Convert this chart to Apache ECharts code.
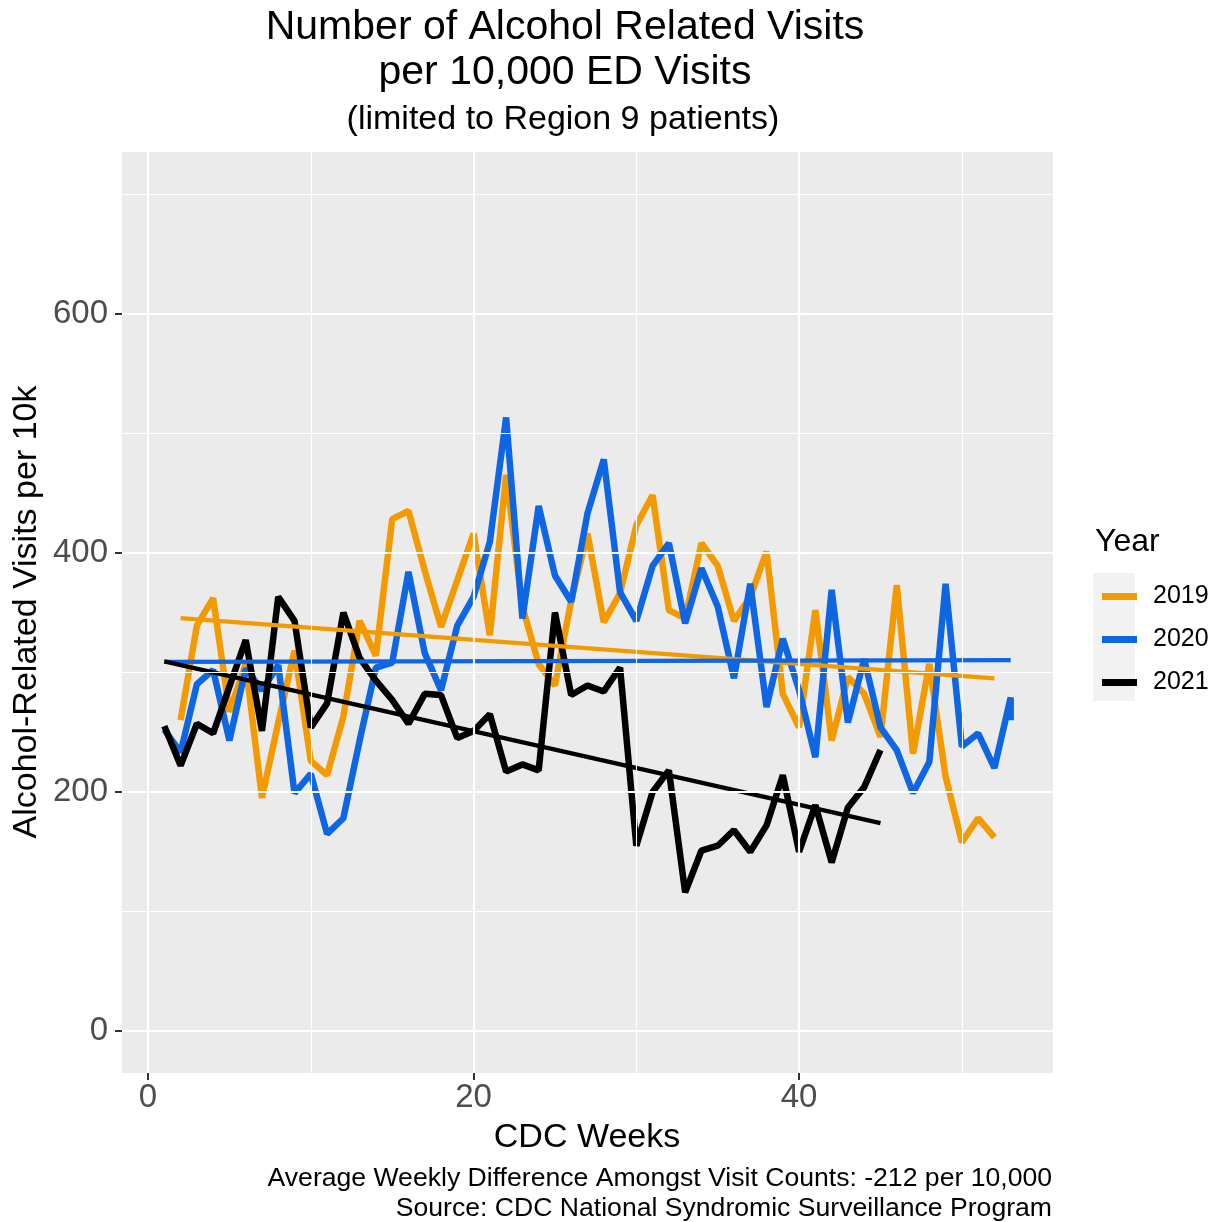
<!DOCTYPE html>
<html><head><meta charset="utf-8">
<script src="https://cdn.jsdelivr.net/npm/echarts@6/dist/echarts.min.js"></script>
<style>html,body{margin:0;padding:0;background:#fff}#c{width:1219px;height:1222px}</style>
</head><body><div id="c"></div>
<script>
// ---- data ----
const years = ['2019', '2020', '2021'];
const weeks2019 = [2,3,4,5,6,7,8,9,10,11,12,13,14,15,16,17,18,19,20,21,22,23,24,25,26,27,28,29,30,31,32,33,34,35,36,37,38,39,40,41,42,43,44,45,46,47,48,49,50,51,52];
const values2019 = [260,339,362,267,307,195,258,318,226,214,263,343,314,428,435,385,338,377,416,331,465,355,307,289,360,416,342,366,423,448,352,345,408,389,343,363,401,282,254,352,243,296,282,246,373,232,307,213,158,178,162];
const weeks2020 = [1,2,3,4,5,6,7,8,9,10,11,12,13,14,15,16,17,18,19,20,21,22,23,24,25,26,27,28,29,30,31,32,33,34,35,36,37,38,39,40,41,42,43,44,45,46,47,48,49,50,51,52,53,53];
const values2020 = [252,233,290,302,243,303,285,306,199,215,165,178,243,304,308,384,316,285,339,363,409,513,345,439,381,359,433,478,367,343,389,408,341,387,355,295,374,271,328,285,229,369,258,311,254,235,199,225,374,238,249,220,279,260];
const weeks2021 = [1,2,3,4,5,6,7,8,9,10,11,12,13,14,15,16,17,18,19,20,21,22,23,24,25,26,27,28,29,30,31,32,33,34,35,36,37,38,39,40,41,42,43,44,45];
const values2021 = [255,222,257,249,288,327,251,363,343,254,274,350,312,293,277,257,282,281,245,251,265,217,223,218,350,281,289,284,304,155,200,218,116,151,155,168,150,172,214,150,189,141,187,204,235];
const xTicks = [0, 20, 40];
const xMinorGrid = [10, 30, 50];
const yTicks = [0, 200, 400, 600];
const yMinorGrid = [100, 300, 500, 700];
const colors = ['#F39A00', '#0F66E2', '#000000'];

const FONT = 'Liberation Sans, Arial, sans-serif';

function pairs(xs, ys) { return xs.map((x, i) => [x, ys[i]]); }
function lmLine(xs, ys) {
  const n = xs.length;
  const mx = xs.reduce((a, b) => a + b, 0) / n;
  const my = ys.reduce((a, b) => a + b, 0) / n;
  let sxy = 0, sxx = 0;
  for (let i = 0; i < n; i++) { sxy += (xs[i] - mx) * (ys[i] - my); sxx += (xs[i] - mx) ** 2; }
  const b = sxy / sxx, a = my - b * mx;
  const x0 = Math.min(...xs), x1 = Math.max(...xs);
  return [[x0, a + b * x0], [x1, a + b * x1]];
}

const seriesData = [pairs(weeks2019, values2019), pairs(weeks2020, values2020), pairs(weeks2021, values2021)];
const trendData = [lmLine(weeks2019, values2019), lmLine(weeks2020, values2020), lmLine(weeks2021, values2021)];

const gridLines = [];
xTicks.forEach(v => gridLines.push({ xAxis: v, lineStyle: { width: 2.2 } }));
yTicks.forEach(v => gridLines.push({ yAxis: v, lineStyle: { width: 2.2 } }));
xMinorGrid.forEach(v => gridLines.push({ xAxis: v, lineStyle: { width: 1.1 } }));
yMinorGrid.forEach(v => gridLines.push({ yAxis: v, lineStyle: { width: 1.1 } }));

const series = [{
  type: 'line', name: 'grid', data: [], z: 1, silent: true,
  markLine: { silent: true, symbol: ['none', 'none'], label: { show: false },
    lineStyle: { color: '#FFFFFF', type: 'solid' }, emphasis: { disabled: true }, data: gridLines }
}];
years.forEach((y, i) => series.push({
  type: 'line', name: y, data: seriesData[i], showSymbol: false, z: 3,
  lineStyle: { width: 6.5, color: colors[i] }, itemStyle: { color: colors[i] }
}));
years.forEach((y, i) => series.push({
  type: 'line', name: y + ' trend', data: trendData[i], showSymbol: false, z: 4,
  lineStyle: { width: 4.3, color: colors[i] }, itemStyle: { color: colors[i] }
}));

const chart = echarts.init(document.getElementById('c'), null, { renderer: 'canvas' });
chart.setOption({
  animation: false,
  backgroundColor: '#FFFFFF',
  textStyle: { fontFamily: FONT },
  grid: { left: 122, right: 166, top: 152, bottom: 149, show: true, backgroundColor: '#EBEBEB', borderWidth: 0, containLabel: false },
  xAxis: {
    type: 'value', min: -1.6, max: 55.6,
    axisLine: { show: true, onZero: false, lineStyle: { color: 'rgba(0,0,0,0)' } },
    axisTick: { show: true, length: 7, customValues: xTicks, lineStyle: { color: '#333333', width: 2 } },
    axisLabel: { customValues: xTicks, margin: 8, fontSize: 33, color: '#4D4D4D', fontFamily: FONT },
    splitLine: { show: false }
  },
  yAxis: {
    type: 'value', min: -35, max: 735,
    axisLine: { show: true, onZero: false, lineStyle: { color: 'rgba(0,0,0,0)' } },
    axisTick: { show: true, length: 7, customValues: yTicks, lineStyle: { color: '#333333', width: 2 } },
    axisLabel: { customValues: yTicks, margin: 14, fontSize: 33, color: '#4D4D4D', fontFamily: FONT },
    splitLine: { show: false }
  },
  legend: {
    data: years, orient: 'vertical', left: 1097, top: 579,
    icon: 'rect', itemWidth: 35, itemHeight: 7, itemGap: 18,
    textStyle: { fontSize: 25, lineHeight: 24, color: '#000', fontFamily: FONT, padding: [0, 0, 0, 11] },
    selectedMode: false
  },
  graphic: [
    { type: 'rect', shape: { x: 1093, y: 573, width: 42, height: 128 }, style: { fill: '#F2F2F2' }, z: 0 },
    { type: 'text', x: 565, y: 27.5, style: { text: 'Number of Alcohol Related Visits', font: '41px ' + FONT, fill: '#000', align: 'center', verticalAlign: 'middle' } },
    { type: 'text', x: 565, y: 72.5, style: { text: 'per 10,000 ED Visits', font: '41px ' + FONT, fill: '#000', align: 'center', verticalAlign: 'middle' } },
    { type: 'text', x: 563, y: 120, style: { text: '(limited to Region 9 patients)', font: '34px ' + FONT, fill: '#000', align: 'center', verticalAlign: 'middle' } },
    { type: 'text', x: 587, y: 1137.5, style: { text: 'CDC Weeks', font: '34px ' + FONT, fill: '#000', align: 'center', verticalAlign: 'middle' } },
    { type: 'text', x: 27, y: 612, rotation: Math.PI / 2, style: { text: 'Alcohol-Related Visits per 10k', font: '34px ' + FONT, fill: '#000', align: 'center', verticalAlign: 'middle' } },
    { type: 'text', x: 1095, y: 542, style: { text: 'Year', font: '32px ' + FONT, fill: '#000', align: 'left', verticalAlign: 'middle' } },
    { type: 'text', x: 1052, y: 1179, style: { text: 'Average Weekly Difference Amongst Visit Counts: -212 per 10,000', font: '26.6px ' + FONT, fill: '#000', align: 'right', verticalAlign: 'middle' } },
    { type: 'text', x: 1052, y: 1209, style: { text: 'Source: CDC National Syndromic Surveillance Program', font: '26.6px ' + FONT, fill: '#000', align: 'right', verticalAlign: 'middle' } }
  ],
  series: series
});
</script></body></html>
